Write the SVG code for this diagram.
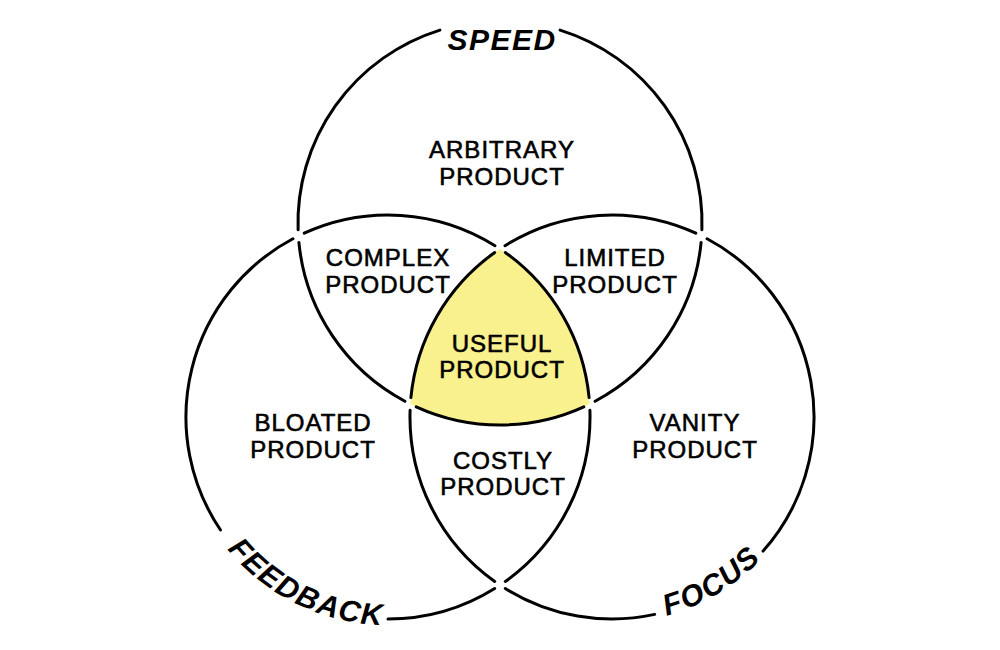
<svg xmlns="http://www.w3.org/2000/svg" width="1000" height="650" viewBox="0 0 1000 650">
  <style>
    .ring { fill: none; stroke: #000; stroke-width: 3; stroke-linecap: round; }
    .lbl { font-family: "Liberation Sans", Arial, sans-serif; font-size: 24px; fill: #000; stroke: #000; stroke-width: 0.6; text-anchor: middle; letter-spacing: 1px; }
    .title { font-family: "Liberation Sans", Arial, sans-serif; font-size: 30px; font-weight: bold; font-style: italic; fill: #000; text-anchor: middle; letter-spacing: 1.5px; }
  </style>
  <defs>
    <path id="feedbackPath" d="M215.5,533.4 A208,208 0 0 0 402.5,624.5"/>
    <path id="focusPath" d="M647.8,619.9 A206,206 0 0 0 774.3,543.8"/>
  </defs>
  <rect width="1000" height="650" fill="#fff"/>

  <g id="useful">
    <path d="M500,248.9 A202,202 0 0 1 589.6,404.1 A202,202 0 0 1 410.4,404.1 A202,202 0 0 1 500,248.9 Z" fill="#f9f08e"/>
  </g>

  <g id="connectors">
    <!-- top circle (Speed) -->
    <path class="ring" d="M560.1,30.1 A202,202 0 0 1 701.9,229.7"/>
    <path class="ring" d="M701.1,242.4 A202,202 0 0 1 595.1,401.2"/>
    <path class="ring" d="M583.8,406.8 A202,202 0 0 1 416.2,406.8"/>
    <path class="ring" d="M404.9,401.2 A202,202 0 0 1 298.9,242.4"/>
    <path class="ring" d="M298.1,229.7 A202,202 0 0 1 439.9,30.1"/>
    <!-- left circle (Feedback) -->
    <path class="ring" d="M494.7,588.5 A202,202 0 0 1 388,619"/>
    <path class="ring" d="M220.5,530.0 A202,202 0 0 1 292.9,238.8"/>
    <path class="ring" d="M304.2,233.2 A202,202 0 0 1 495.0,245.7"/>
    <path class="ring" d="M505.3,252.5 A202,202 0 0 1 589.1,397.6"/>
    <path class="ring" d="M589.9,410.3 A202,202 0 0 1 505.3,581.5"/>
    <!-- right circle (Focus) -->
    <path class="ring" d="M654.7,614.4 A202,202 0 0 1 505.3,588.5"/>
    <path class="ring" d="M707.1,238.8 A202,202 0 0 1 763.1,551.1"/>
    <path class="ring" d="M695.8,233.2 A202,202 0 0 0 505.0,245.7"/>
    <path class="ring" d="M494.7,252.5 A202,202 0 0 0 410.9,397.6"/>
    <path class="ring" d="M410.1,410.3 A202,202 0 0 0 494.7,581.5"/>
  </g>

  <g id="speed"><text class="title" x="502" y="50">SPEED</text></g>
  <g id="feedback"><text class="title"><textPath href="#feedbackPath" startOffset="50%">FEEDBACK</textPath></text></g>
  <g id="focus"><text class="title"><textPath href="#focusPath" startOffset="50%">FOCUS</textPath></text></g>

  <g id="arbitrary"><text class="lbl" x="502" y="158">ARBITRARY</text><text class="lbl" x="502" y="185">PRODUCT</text></g>
  <g id="complex"><text class="lbl" x="388" y="266">COMPLEX</text><text class="lbl" x="388" y="293">PRODUCT</text></g>
  <g id="limited"><text class="lbl" x="615" y="266">LIMITED</text><text class="lbl" x="615" y="293">PRODUCT</text></g>
  <g id="usefulLabel"><text class="lbl" x="502" y="352">USEFUL</text><text class="lbl" x="502" y="378">PRODUCT</text></g>
  <g id="bloated"><text class="lbl" x="313" y="431">BLOATED</text><text class="lbl" x="313" y="458">PRODUCT</text></g>
  <g id="costly"><text class="lbl" x="503" y="469">COSTLY</text><text class="lbl" x="503" y="495">PRODUCT</text></g>
  <g id="vanity"><text class="lbl" x="695" y="431">VANITY</text><text class="lbl" x="695" y="458">PRODUCT</text></g>
</svg>
